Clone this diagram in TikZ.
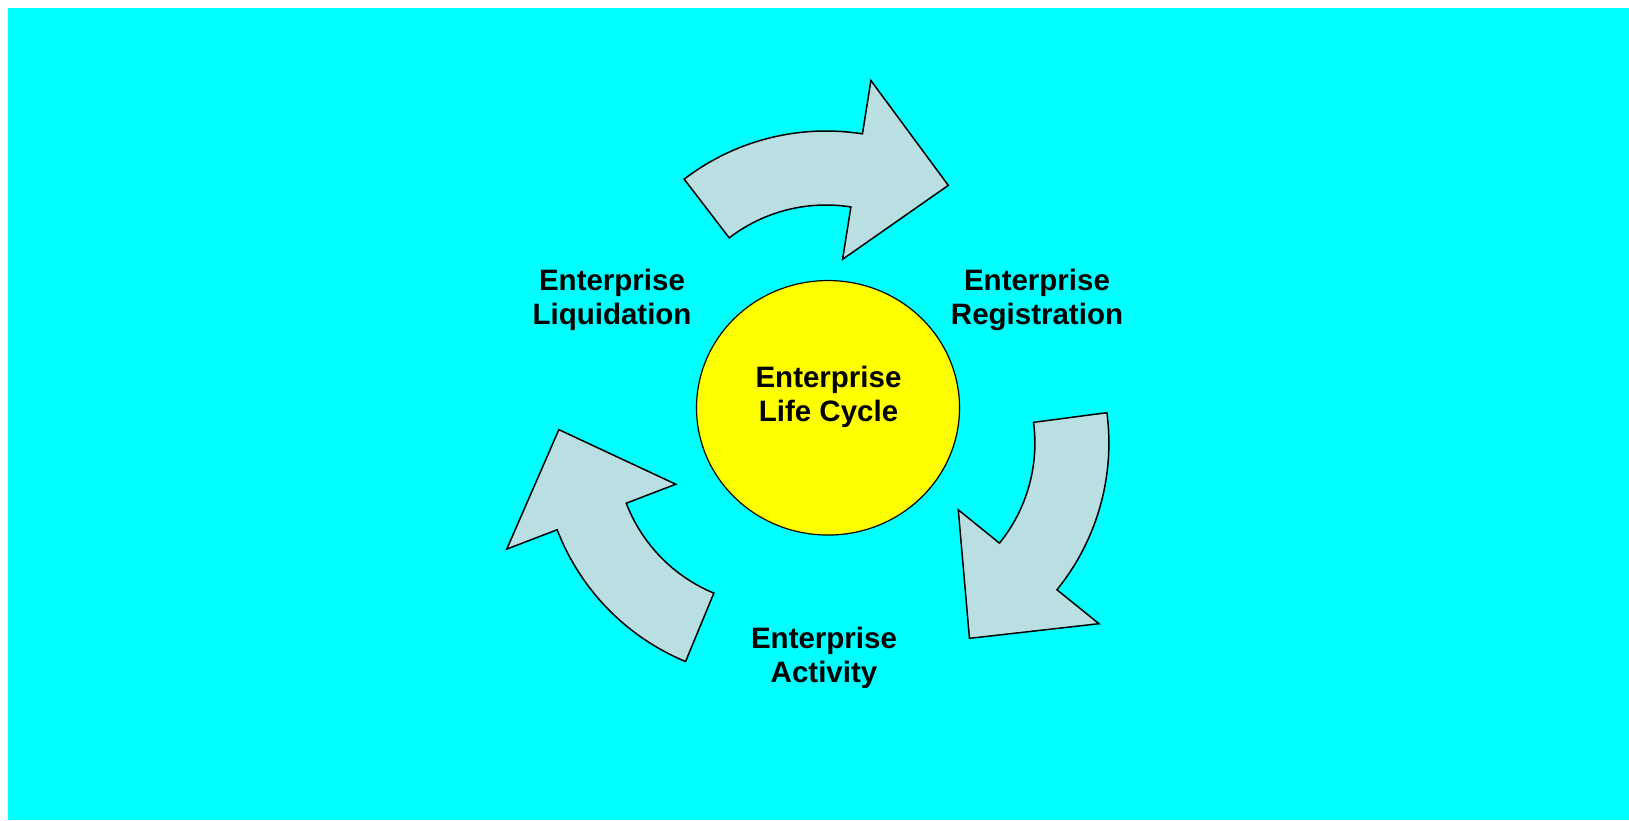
\documentclass[tikz,border=0pt]{standalone}
\usepackage{fontspec}
\setmainfont{Liberation Sans}
\usetikzlibrary{shapes.geometric}
\definecolor{arrowblue}{RGB}{185,223,227}
\definecolor{aqua}{RGB}{0,255,255}
\definecolor{sun}{RGB}{255,255,0}
\begin{document}
\begin{tikzpicture}[
    x=1pt, y=1pt,
    stage/.style={font=\bfseries\fontsize{29.5}{34}\selectfont, align=center, inner sep=0pt},
    bend arrow/.style={fill=arrowblue, draw=black, line width=1.5pt},
    hub/.style={ellipse, fill=sun, draw=black, line width=1.2pt,
      minimum width=263pt, minimum height=254.5pt, inner sep=0pt},
  line join=miter]

  % background
  \useasboundingbox (0,0) rectangle (1629,820);
  \fill [aqua] (8,0) rectangle (1629,812);

  % curved arrows
  \foreach \cx/\cy/\rot in {826/456/0, 875.9/376.9/-120, 774.7/373.75/-240}{
    \path [bend arrow, shift={(\cx,\cy)}, rotate=\rot]
    (127.5:233) arc [start angle=127.5, end angle=81, radius=233] --
    (81:287) --
    (55.6:216.5) --
    (81:106) --
    (81:159) arc [start angle=81, end angle=127.5, radius=159] --
    cycle;
  }

  % centre
  \node (hub) [hub] at (828,412.2) {};
  \node (cycle) [stage] at (828.5,423.5) {Enterprise\\Life Cycle};

  % stages
  \node (liquidation) [stage] at (612,520) {Enterprise\\Liquidation};
  \node (registration) [stage] at (1037,520) {Enterprise\\Registration};
  \node (activity) [stage] at (824,162) {Enterprise\\Activity};
\end{tikzpicture}
\end{document}
